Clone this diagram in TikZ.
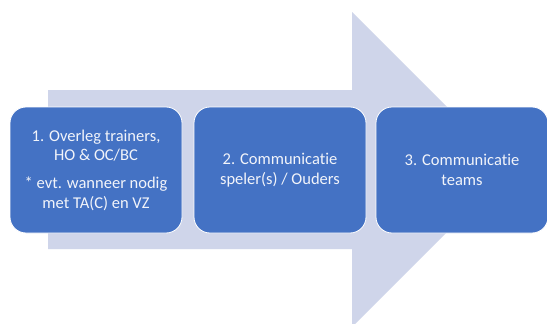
\documentclass[tikz,border=0pt]{standalone}
\usepackage{fontspec}
\setmainfont[Ligatures=NoCommon]{Carlito}
\definecolor{arrowfill}{HTML}{CFD5EA}
\definecolor{boxfill}{HTML}{4472C4}
\definecolor{boxtext}{HTML}{F2F4FA}
\begin{document}
\begin{tikzpicture}[x=1pt,y=-1pt,
  stepbox/.style={draw=white, line width=0.8pt, fill=boxfill, rounded corners=16pt,
    minimum width=172pt, minimum height=126pt, text=boxtext, align=center,
    font=\fontsize{16.5}{19.5}\selectfont, inner sep=0pt}]
\useasboundingbox (0,0) rectangle (547,324);
\clip (0,0) rectangle (547,324);
\fill[white] (0,0) rectangle (547,324);
\fill[arrowfill] (48,90) -- (352,90) -- (352,12) -- (509.5,169.5) -- (352,327) -- (352,249) -- (48,249) -- cycle;
\node[stepbox] (b1) at (96,170) {1. Overleg trainers,\\HO \& OC/BC\\[8.5pt]* evt. wanneer nodig\\met TA(C) en VZ};
\node[stepbox] (b2) at (280,170) {2. Communicatie\\speler(s) / Ouders};
\node[stepbox] (b3) at (462,170) {3. Communicatie\\teams};
\end{tikzpicture}
\end{document}
